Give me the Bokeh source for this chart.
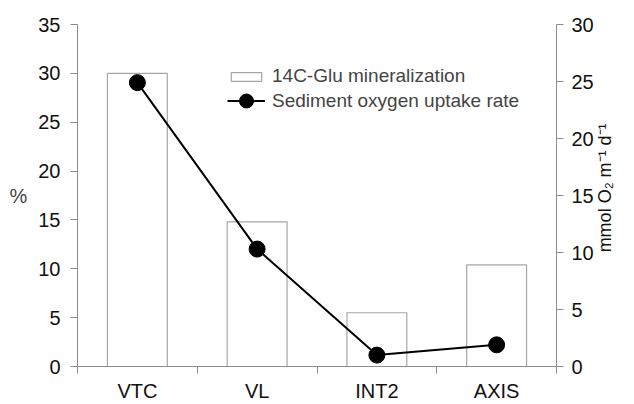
import math
from bokeh.plotting import figure
from bokeh.layouts import row
from bokeh.models import (LinearAxis, Range1d, FixedTicker, Legend, LegendItem,
                          ColumnDataSource)
from bokeh.core.properties import value
from bokeh.embed import file_html
from bokeh.resources import INLINE

categories = ["VTC", "VL", "INT2", "AXIS"]
glu_mineralization = [30.0, 14.8, 5.5, 10.4]      # % (left axis)
oxygen_uptake = [24.9, 10.3, 1.0, 1.9]            # mmol O2 m-1 d-1 (right axis)
left_ticks = [0, 5, 10, 15, 20, 25, 30, 35]
right_ticks = [0, 5, 10, 15, 20, 25, 30]
right_title = "mmol O\u2082 m\u207b\u00b9 d\u207b\u00b9"

FONT = "Liberation Sans"
AXIS_GRAY = "#8c8c8c"

xpos = [i + 0.5 for i in range(len(categories))]
src = ColumnDataSource(dict(x=xpos, cat=categories, glu=glu_mineralization, o2=oxygen_uptake))

p = figure(width=596, height=404, output_backend="svg", toolbar_location=None,
           x_range=Range1d(0, len(categories)), y_range=Range1d(0, 35),
           min_border_left=77, min_border_right=38, min_border_top=24, min_border_bottom=38)
p.extra_y_ranges = {"o2": Range1d(0, 30)}
p.outline_line_color = None
p.xgrid.visible = False
p.ygrid.visible = False
p.background_fill_color = "white"
p.border_fill_color = "white"

bars = p.vbar(x="x", top="glu", width=0.5, source=src, fill_color="white",
              line_color="#a6a6a6", line_width=1.2)
line = p.line(x="x", y="o2", source=src, y_range_name="o2", line_color="black", line_width=2)
dots = p.scatter(x="x", y="o2", source=src, y_range_name="o2", size=16,
                 fill_color="black", line_color="black")

# x axis
xa = p.xaxis[0]
xa.ticker = FixedTicker(ticks=xpos, minor_ticks=list(range(len(categories) + 1)))
xa.major_label_overrides = {x: c for x, c in zip(xpos, categories)}
xa.major_tick_line_color = None
xa.major_tick_out = 0
xa.minor_tick_in = 0
xa.minor_tick_out = 7
xa.minor_tick_line_color = AXIS_GRAY
xa.axis_line_color = AXIS_GRAY
xa.major_label_standoff = 6
xa.major_label_text_font = FONT
xa.major_label_text_font_size = "20px"
xa.major_label_text_color = "#111111"

# left axis
ya = p.yaxis[0]
ya.ticker = FixedTicker(ticks=left_ticks)
ya.axis_label = "%"
ya.axis_label_orientation = "horizontal"
ya.axis_label_text_font = FONT
ya.axis_label_text_font_style = "normal"
ya.axis_label_text_font_size = "20px"
ya.axis_label_standoff = 8
ya.major_tick_in = 0
ya.major_tick_out = 7
ya.minor_tick_line_color = None
ya.major_tick_line_color = AXIS_GRAY
ya.axis_line_color = AXIS_GRAY
ya.major_label_standoff = 10
ya.major_label_text_font = FONT
ya.major_label_text_font_size = "20px"
ya.major_label_text_color = "#111111"

# right axis
ra = LinearAxis(y_range_name="o2", ticker=FixedTicker(ticks=right_ticks))
ra.major_tick_in = 0
ra.major_tick_out = 7
ra.minor_tick_line_color = None
ra.major_tick_line_color = AXIS_GRAY
ra.axis_line_color = AXIS_GRAY
ra.major_label_standoff = 8
ra.major_label_text_font = FONT
ra.major_label_text_font_size = "20px"
ra.major_label_text_color = "#111111"
p.add_layout(ra, "right")

# legends
leg1 = Legend(items=[LegendItem(label="14C-Glu mineralization", renderers=[bars])],
              location=(150, 279), glyph_width=38, glyph_height=11,
              label_text_font=FONT, label_text_font_size="19px",
              background_fill_alpha=0, border_line_color=None,
              padding=0, margin=0, label_standoff=7)
leg2 = Legend(items=[LegendItem(label="Sediment oxygen uptake rate", renderers=[line, dots])],
              location=(150, 248), glyph_width=38, glyph_height=35,
              label_text_font=FONT, label_text_font_size="19px",
              background_fill_alpha=0, border_line_color=None,
              padding=0, margin=0, label_standoff=7)
p.add_layout(leg1, "center")
p.add_layout(leg2, "center")

# narrow side panel holding the right-axis title, reading bottom-to-top
side = figure(width=38, height=404, output_backend="svg", toolbar_location=None,
              x_range=Range1d(0, 1), y_range=Range1d(0, 404),
              min_border_left=0, min_border_right=0, min_border_top=0, min_border_bottom=0)
side.axis.visible = False
side.grid.visible = False
side.outline_line_color = None
side.background_fill_color = "white"
side.border_fill_color = "white"
side.text(x=[0.23], y=[211], text=[right_title], angle=math.pi / 2,
          text_align="center", text_baseline="middle",
          text_font=value(FONT), text_font_size=value("18px"), text_color="#111111")

layout = row(p, side, spacing=0)
open("out.html", "w").write(file_html(layout, INLINE))
